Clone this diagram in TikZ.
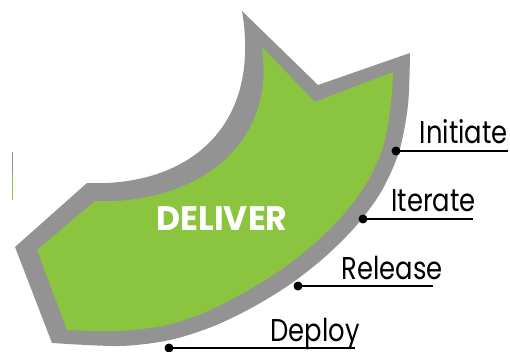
\documentclass[tikz,border=0pt]{standalone}
\usepackage{fontspec}
\setmainfont{Poppins}
\newfontfamily\boldface{Poppins Bold}
\definecolor{rimgray}{HTML}{939393}
\definecolor{delgreen}{HTML}{8BC53F}

\begin{document}
\begin{tikzpicture}[x=1pt,y=-1pt]
\useasboundingbox (0,0) rectangle (510,352);
\fill[rimgray] (242,11) -- (318,85) -- (410,53) -- plot[smooth] coordinates {(410,53) (408,105) (399,152) (381,192) (356,226) (326,256) (292,283) (255,306) (214,326) (170,340) (120,346) (52,343)} -- (15,247) -- (87,183) .. controls (185,187) and (262,130) .. cycle;
\fill[delgreen] (262,47) -- (315,102) -- (393,72) -- plot[smooth] coordinates {(393,72) (391,103) (383,147) (366,184) (343,215) (315,243) (282,269) (247,291) (208,311) (167,325) (119,331) (67,330)} -- (37,250) -- (95,201) .. controls (190,205) and (277,150) .. cycle;
\draw[rimgray, line width=1pt] (12.5,152) -- (12.5,173);
\draw[delgreen, line width=1pt] (12.5,173) -- (12.5,200);
\node[white, font=\boldface\fontsize{34}{34}\selectfont] (deliver) at (222,219) {\scalebox{0.97}[1]{DELIVER}};
\foreach \name/\px/\py/\ex/\tx in {Initiate/396/151/508/508, Iterate/363/219/473/476, Release/298/286/433/443, Deploy/169/348/355/360}{
\coordinate (\name-dot) at (\px,\py);
\coordinate (\name-end) at (\ex,\py);
\fill (\name-dot) circle (4.5pt);
\draw[line width=1.3pt] (\name-dot) -- (\name-end);
\node[anchor=base east, inner sep=0pt, font=\fontsize{31.5}{31.5}\selectfont] (\name) at (\tx,\py-7) {\scalebox{0.82}[1]{\name}};
}
\end{tikzpicture}
\end{document}
